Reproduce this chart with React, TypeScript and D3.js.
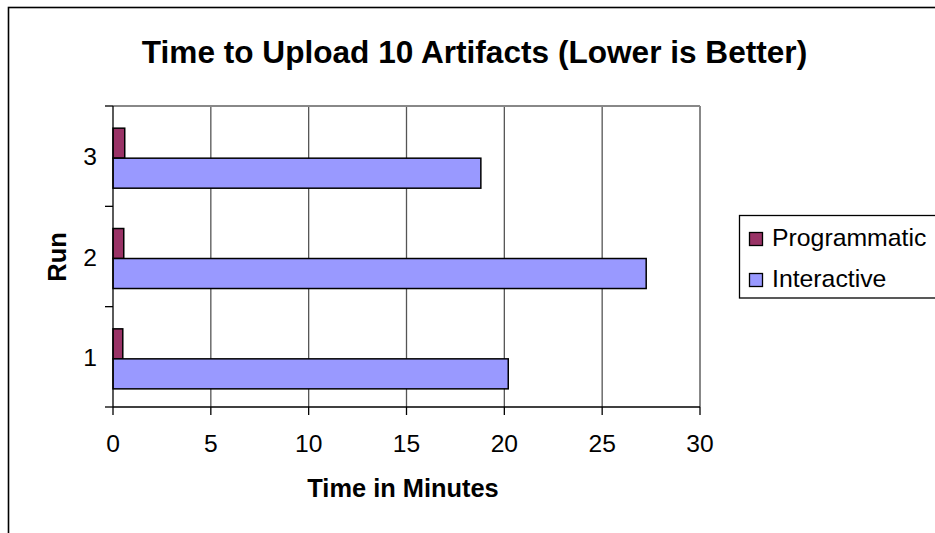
import React from "react";
import * as d3 from "d3";

const runs = ["3", "2", "1"];
const seriesNames = ["Programmatic", "Interactive"];
const programmatic = [0.6, 0.55, 0.5]; // runs 3,2,1
const interactive = [18.8, 27.25, 20.2]; // runs 3,2,1
const xTicks = [0, 5, 10, 15, 20, 25, 30];
const colors = ["#993366", "#9999FF"];

const W = 935;
const H = 533;
const plot = { left: 113, top: 106, right: 700, bottom: 407 };
const font = "Liberation Sans, Arial, sans-serif";

export default function App() {
  const x = d3.scaleLinear().domain([0, 30]).range([plot.left, plot.right]);
  const y = d3.scaleBand<string>().domain(runs).range([plot.top, plot.bottom]).padding(0);
  const inner = d3
    .scaleBand<string>()
    .domain(seriesNames)
    .range([0, y.bandwidth()])
    .paddingInner(0)
    .paddingOuter(0.672)
    .align(0.55);
  const values = [programmatic, interactive];

  return (
    <svg
      width={W}
      height={H}
      style={{ position: "absolute", left: 0, top: 0, background: "#fff" }}
      fontFamily={font}
    >
      <rect x={0} y={0} width={W} height={H} fill="#fff" />
      {/* outer chart border */}
      <rect x={8.5} y={7.5} width={1000} height={700} fill="none" stroke="#000" strokeWidth={1.6} />

      {/* title */}
      <text x={474.5} y={63} textAnchor="middle" fontSize={31.6} fontWeight="bold" fill="#000">
        Time to Upload 10 Artifacts (Lower is Better)
      </text>

      {/* gridlines */}
      {xTicks.slice(1, -1).map((t) => (
        <line key={t} x1={x(t)} x2={x(t)} y1={plot.top} y2={plot.bottom} stroke="#555" strokeWidth={1.3} />
      ))}
      {/* plot area border (gray) */}
      <line x1={plot.left} x2={plot.right} y1={plot.top} y2={plot.top} stroke="#888" strokeWidth={2} />
      <line x1={plot.right} x2={plot.right} y1={plot.top} y2={plot.bottom} stroke="#888" strokeWidth={2} />

      {/* bars */}
      {runs.map((r, i) =>
        seriesNames.map((s, j) => (
          <rect
            key={r + s}
            x={x(0)}
            y={(y(r) as number) + (inner(s) as number)}
            width={x(values[j][i]) - x(0)}
            height={inner.bandwidth()}
            fill={colors[j]}
            stroke="#000"
            strokeWidth={1.5}
          />
        ))
      )}

      {/* axes */}
      <line x1={plot.left} x2={plot.left} y1={plot.top} y2={plot.bottom} stroke="#000" strokeWidth={1.3} />
      <line x1={plot.left} x2={plot.right} y1={plot.bottom} y2={plot.bottom} stroke="#000" strokeWidth={1.3} />
      {/* y ticks (band edges) */}
      {[plot.top, ...runs.map((r) => (y(r) as number) + y.bandwidth())].map((v, i) => (
        <line key={i} x1={plot.left - 8} x2={plot.left} y1={v} y2={v} stroke="#000" strokeWidth={1.3} />
      ))}
      {/* x ticks */}
      {xTicks.map((t) => (
        <g key={t}>
          <line x1={x(t)} x2={x(t)} y1={plot.bottom} y2={plot.bottom + 8} stroke="#000" strokeWidth={1.3} />
          <text x={x(t)} y={452} textAnchor="middle" fontSize={24.6} fill="#000">
            {t}
          </text>
        </g>
      ))}
      {runs.map((r) => (
        <text
          key={r}
          x={97}
          y={(y(r) as number) + y.bandwidth() / 2 + 9}
          textAnchor="end"
          fontSize={24.6}
          fill="#000"
        >
          {r}
        </text>
      ))}

      {/* axis titles */}
      <text x={403} y={497} textAnchor="middle" fontSize={25.4} fontWeight="bold" fill="#000">
        Time in Minutes
      </text>
      <text
        transform={`translate(66, 257) rotate(-90)`}
        textAnchor="middle"
        fontSize={25.4}
        fontWeight="bold"
        fill="#000"
      >
        Run
      </text>

      {/* legend */}
      <rect x={739.5} y={215.5} width={300} height={82.5} fill="#fff" stroke="#000" strokeWidth={1.3} />
      {seriesNames.map((s, j) => (
        <g key={s} transform={`translate(0, ${j * 41})`}>
          <rect x={749.5} y={232.5} width={13} height={13} fill={colors[j]} stroke="#000" strokeWidth={1.3} />
          <text x={772} y={246} fontSize={24.8} fill="#000">
            {s}
          </text>
        </g>
      ))}
    </svg>
  );
}
